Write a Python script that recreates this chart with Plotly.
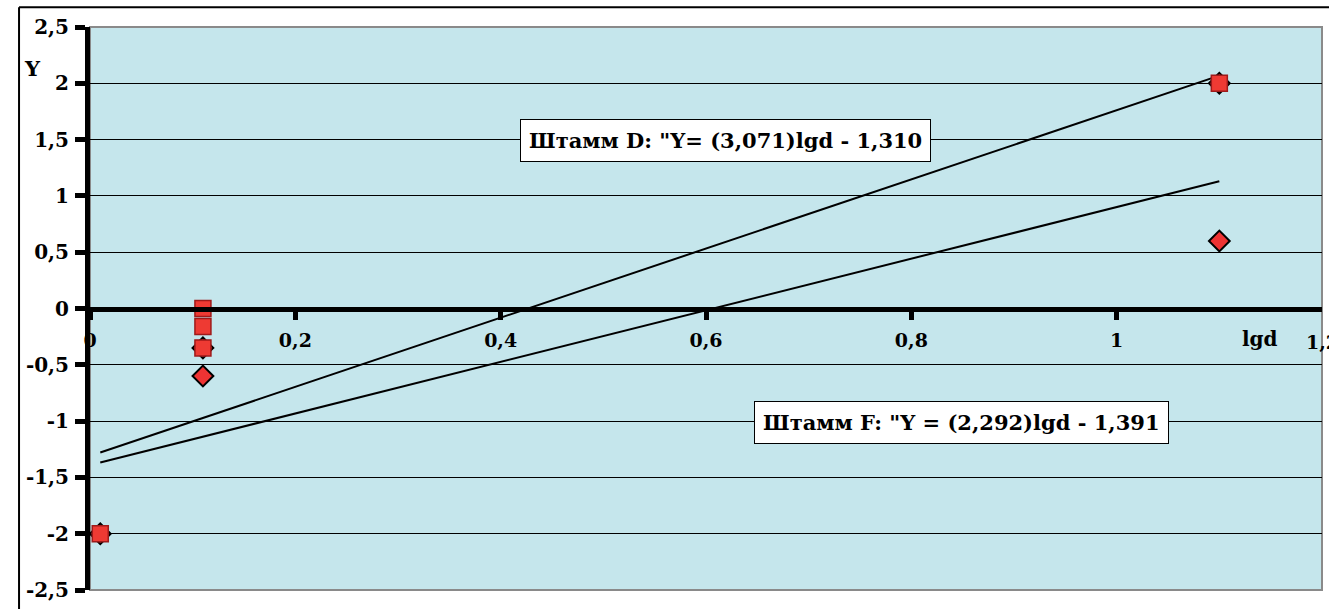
import plotly.graph_objects as go

# Measured points, strain D (squares) and strain F (diamonds)
d_x = [0.01, 0.11, 0.11, 0.11, 1.1]
d_y = [-2.0, 0.0, -0.16, -0.35, 2.0]
f_x = [0.01, 0.11, 0.11, 1.1, 1.1]
f_y = [-2.0, -0.35, -0.6, 0.6, 2.0]

# Fitted lines Y = a*lgd + b
d_fit = [3.071, -1.310]
f_fit = [2.292, -1.391]
fit_range = [0.01, 1.1]

y_ticks = [-2.5, -2, -1.5, -1, -0.5, 0, 0.5, 1, 1.5, 2, 2.5]
y_labels = ["-2,5", "-2", "-1,5", "-1", "-0,5", "0", "0,5", "1", "1,5", "2", "2,5"]
x_ticks = [0, 0.2, 0.4, 0.6, 0.8, 1, 1.2]
x_labels = ["0", "0,2", "0,4", "0,6", "0,8", "1", "1,2"]

FONT = "DejaVu Serif"
BOLD = dict(family=FONT, color="black", weight="bold")

fig = go.Figure()

for (a, b) in (d_fit, f_fit):
    fig.add_trace(go.Scatter(
        x=fit_range, y=[a * v + b for v in fit_range],
        mode="lines", line=dict(color="black", width=2),
        showlegend=False, hoverinfo="skip"))

fig.add_trace(go.Scatter(
    x=f_x, y=f_y, mode="markers",
    marker=dict(symbol="diamond", size=16, color="#EE3333",
                line=dict(color="black", width=2)),
    showlegend=False))
fig.add_trace(go.Scatter(
    x=d_x, y=d_y, mode="markers",
    marker=dict(symbol="square", size=16, color="#EE3A33",
                line=dict(color="#9E1A1A", width=1.5)),
    showlegend=False))

fig.update_layout(
    width=1329, height=609,
    margin=dict(l=90, r=7, t=27, b=14),
    paper_bgcolor="white",
    plot_bgcolor="#C5E6EC",
    font=dict(family=FONT, size=19, color="black"),
    xaxis=dict(
        range=[0, 1.2], tickvals=x_ticks[:-1], ticktext=x_labels[:-1],
        showgrid=False, zeroline=False,
        anchor="free", position=0.5,
        showline=True, linecolor="black", linewidth=5,
        ticks="outside", ticklen=8, tickwidth=5, tickcolor="black",
        ticklabelstandoff=5,
        tickfont=dict(BOLD, size=19),
    ),
    yaxis=dict(
        range=[-2.5, 2.5], tickvals=y_ticks, ticktext=y_labels,
        showgrid=True, gridcolor="black", gridwidth=1,
        zeroline=False,
        showline=True, linecolor="black", linewidth=5,
        ticks="outside", ticklen=10, tickwidth=5, tickcolor="black",
        ticklabelstandoff=2,
        tickfont=dict(BOLD, size=20),
    ),
    shapes=[
        # plot area frame
        dict(type="rect", xref="paper", yref="paper", x0=0, x1=1, y0=0, y1=1,
             line=dict(color="#8A8A8A", width=2), layer="below"),
        # outer chart frame
        dict(type="line", xref="paper", yref="paper", x0=-0.0576, x1=1.01,
             y0=1.035, y1=1.035, line=dict(color="black", width=2)),
        dict(type="line", xref="paper", yref="paper", x0=-0.0576, x1=-0.0576,
             y0=1.035, y1=-0.05, line=dict(color="black", width=2)),
    ],
    annotations=[
        dict(x=0.619, y=1.49, xref="x", yref="y",
             text='Штамм D: "Y= (3,071)lgd - 1,310', showarrow=False,
             font=dict(BOLD, size=21),
             bgcolor="white", bordercolor="black", borderwidth=1, borderpad=8),
        dict(x=0.849, y=-1.014, xref="x", yref="y",
             text='Штамм F: "Y = (2,292)lgd - 1,391', showarrow=False,
             font=dict(BOLD, size=21),
             bgcolor="white", bordercolor="black", borderwidth=1, borderpad=8),
        dict(x=-0.047, y=0.927, xref="paper", yref="paper", text="Y",
             xanchor="center", yanchor="middle",
             showarrow=False, font=dict(BOLD, size=21)),
        dict(x=1.14, y=-0.27, xref="x", yref="y", text="lgd", showarrow=False,
             font=dict(BOLD, size=20)),
        # last x tick label sits on the right edge of the page
        dict(x=1.2, y=-0.3, xref="x", yref="y", text="1,2", showarrow=False,
             font=dict(BOLD, size=19)),
    ],
)

fig.write_html("out.html")
